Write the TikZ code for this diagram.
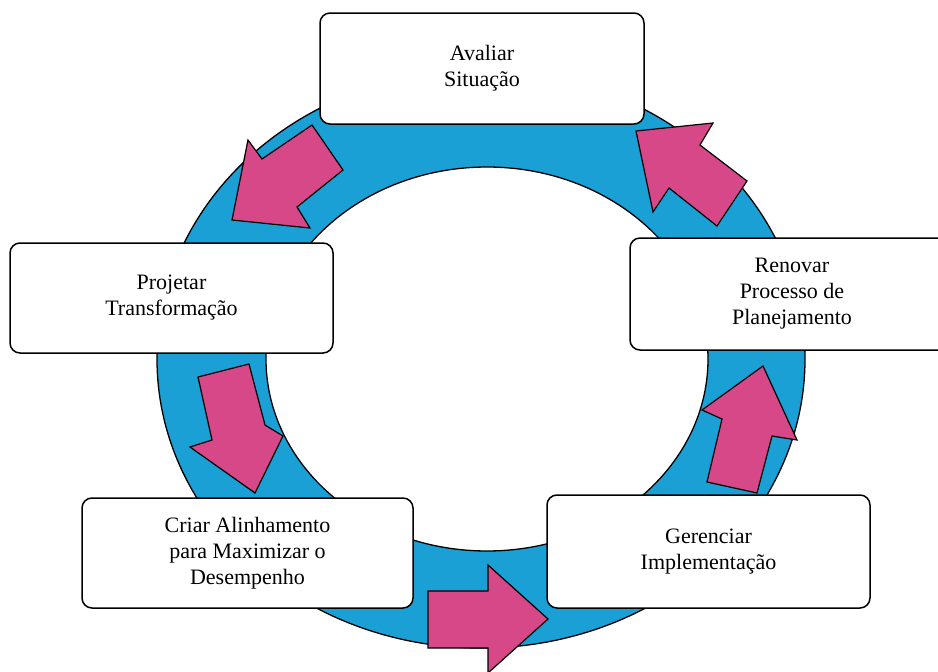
\documentclass[tikz,border=0pt]{standalone}
\usepackage{fontspec}
\setmainfont{Liberation Serif}
\definecolor{ringblue}{RGB}{26,160,212}
\definecolor{arrowpink}{RGB}{214,72,136}
\tikzset{
  stepbox/.style={draw=black, line width=1.5pt, fill=white, rounded corners=10pt,
    align=center, inner sep=0pt, font=\fontsize{22}{26}\selectfont},
  blockarrow/.style={fill=arrowpink, draw=black, line width=1.2pt, line join=miter},
  ring/.style={fill=ringblue, even odd rule},
  ringedge/.style={draw=black, line width=1.3pt}
}
\begin{document}
\begin{tikzpicture}[x=1pt, y=-1pt]
  \useasboundingbox (0,0) rectangle (938,672);

  % cycle ring
  \path[ring] (481,359) ellipse [x radius=324, y radius=289]
              (487,359) ellipse [x radius=221, y radius=192];
  \path[ringedge] (481,359) ellipse [x radius=324, y radius=289];
  \path[ringedge] (487,359) ellipse [x radius=221, y radius=192];

  % block arrows around the ring
  \draw[blockarrow] (312,125) -- (343,170) -- (297,207) -- (310,228) -- (232,220)
        -- (248,140) -- (262,159) -- cycle;
  \draw[blockarrow] (198,377) -- (249,364) -- (265,425) -- (283,436) -- (255,493)
        -- (190,447) -- (212,440) -- cycle;
  \draw[blockarrow] (428,591) -- (488,591) -- (488,565) -- (548,619) -- (488,673)
        -- (488,648) -- (428,648) -- cycle;
  \draw[blockarrow] (707,482) -- (757,493) -- (772,436) -- (797,440) -- (763,366)
        -- (702,410) -- (722,419) -- cycle;
  \draw[blockarrow] (636,131) -- (713,123) -- (700,145) -- (747,181) -- (717,226)
        -- (669,188) -- (653,212) -- cycle;

  % process steps
  \node[stepbox, minimum width=324pt, minimum height=111pt] (avaliar) at (482,68.5)
    {Avaliar\\Situação};
  \node[stepbox, minimum width=323pt, minimum height=110pt] (projetar) at (171.5,298)
    {Projetar\\Transformação};
  \node[stepbox, minimum width=324pt, minimum height=112pt] (renovar) at (792,294)
    {Renovar\\Processo de\\Planejamento};
  \node[stepbox, minimum width=331pt, minimum height=110pt] (criar) at (247.5,553)
    {Criar Alinhamento\\para Maximizar o\\Desempenho};
  \node[stepbox, minimum width=323pt, minimum height=113pt] (gerenciar) at (708.5,551.5)
    {Gerenciar\\Implementação};
\end{tikzpicture}
\end{document}
